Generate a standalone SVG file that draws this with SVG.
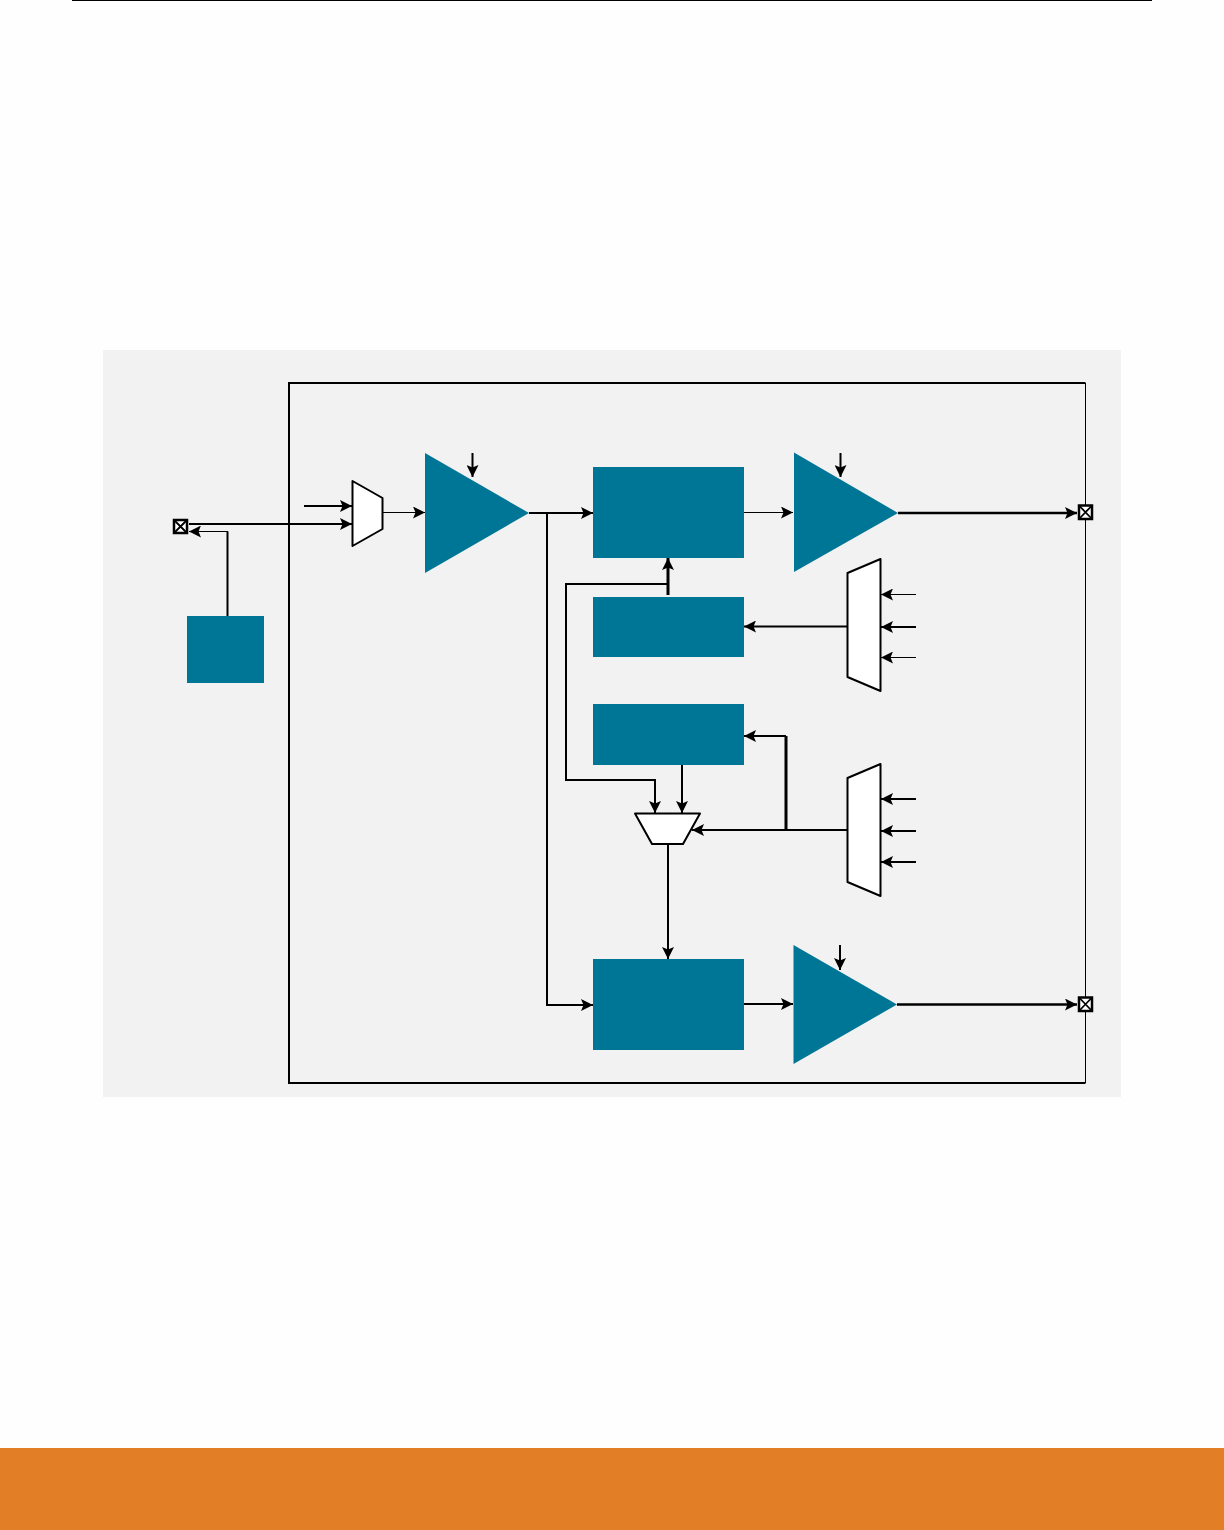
<svg xmlns="http://www.w3.org/2000/svg" width="1224" height="1530" viewBox="0 0 1224 1530">
  <style>
    .block { fill: #007696; }
    .mux { fill: #ffffff; stroke: #000000; stroke-width: 2; stroke-linejoin: round; }
    .port { fill: #ffffff; stroke: #000000; stroke-width: 2.5; }
    .portx { fill: none; stroke: #000000; stroke-width: 1.8; }
    .w { fill: none; stroke: #000000; stroke-width: 2; }
    .m { fill: none; stroke: #000000; stroke-width: 2.6; }
    .t { fill: none; stroke: #000000; stroke-width: 1.2; }
    .b { fill: none; stroke: #000000; stroke-width: 3; }
    .a { marker-end: url(#arrow); }
  </style>
  <defs>
    <marker id="arrow" markerUnits="userSpaceOnUse" markerWidth="12" markerHeight="12" refX="12" refY="6" orient="auto">
      <path d="M0,0 L12,6 L0,12 L2.5,6 Z" fill="#000000"/>
    </marker>
  </defs>
  <rect id="page" width="1224" height="1530" fill="#fefefe"/>
  <line id="top-rule" x1="72" y1="0.5" x2="1152" y2="0.5" stroke="#000000" stroke-width="1"/>
  <rect id="panel" x="103" y="350" width="1018" height="747" fill="#f2f2f2"/>
  <rect id="footer" x="0" y="1448" width="1224" height="82" fill="#e17e26"/>

  <g id="boundary">
    <path d="M1085.5,1083 H289 V383 H1085.5" fill="none" stroke="#000000" stroke-width="2"/>
    <line x1="1085.5" y1="383" x2="1085.5" y2="1083" stroke="#000000" stroke-width="1"/>
  </g>

  <g id="connectors">
    <path class="w a" d="M304,506 H352"/>
    <path class="w a" d="M189,524 H352"/>
    <path class="w" d="M227.500,616 V531.500"/>
    <path class="t a" d="M228,531.500 H189"/>
    <path class="t a" d="M382,512.500 H425"/>
    <path class="w a" d="M472.500,453 V477"/>
    <path class="w a" d="M529,513 H593"/>
    <path class="w a" d="M547,514 V1005 H593"/>
    <path class="t a" d="M744,512.500 H793"/>
    <path class="w a" d="M840.500,453 V477"/>
    <path class="m a" d="M898,513 H1077"/>
    <path class="b a" d="M668,595 V558"/>
    <path class="w a" d="M667,584 H566 V780 H655 V813"/>
    <path class="w a" d="M682,765 V813"/>
    <path class="w a" d="M847,626.500 H744"/>
    <path class="t a" d="M916,594.500 H881"/>
    <path class="w a" d="M916,627 H881"/>
    <path class="t a" d="M916,657.500 H881"/>
    <path class="w a" d="M847,830 H692"/>
    <path class="b" d="M786,830 V736"/>
    <path class="w a" d="M786,736 H744"/>
    <path class="w a" d="M916,799 H881"/>
    <path class="w a" d="M916,831 H881"/>
    <path class="w a" d="M916,862 H881"/>
    <path class="w a" d="M668,844 V959"/>
    <path class="w a" d="M744,1004 H793"/>
    <path class="w a" d="M840,945 V970"/>
    <path class="m a" d="M897,1004.500 H1077"/>
  </g>

  <g id="port-left"><rect class="port" x="174" y="520" width="13" height="13"/><path class="portx" d="M174,520 L187,533 M187,520 L174,533"/></g>
  <g id="port-right-top"><rect class="port" x="1079" y="505.500" width="13" height="13.500"/><path class="portx" d="M1079,505.500 L1092,519 M1092,505.500 L1079,519"/></g>
  <g id="port-right-bottom"><rect class="port" x="1079" y="997.500" width="13" height="13.500"/><path class="portx" d="M1079,997.500 L1092,1011 M1092,997.500 L1079,1011"/></g>

  <g id="block-left"><rect class="block" x="187" y="616" width="77" height="67"/></g>
  <g id="mux-input"><polygon class="mux" points="352.500,481 382.500,498 382.500,529 352.500,546"/></g>
  <g id="amp-input"><polygon class="block" points="425,453 529,513 425,573"/></g>
  <g id="block-top"><rect class="block" x="593" y="467" width="151" height="91"/></g>
  <g id="amp-top"><polygon class="block" points="794,452.500 898,513 794,572"/></g>
  <g id="block-second"><rect class="block" x="593" y="597" width="151" height="60"/></g>
  <g id="block-third"><rect class="block" x="593" y="704" width="151" height="61"/></g>
  <g id="block-bottom"><rect class="block" x="593" y="959" width="151" height="91"/></g>
  <g id="amp-bottom"><polygon class="block" points="793.500,945 897,1004.500 793.500,1064"/></g>
  <g id="mux-right-top"><polygon class="mux" points="847.500,573 880.500,559 880.500,691 847.500,677"/></g>
  <g id="mux-right-bottom"><polygon class="mux" points="847.500,778 880.500,764 880.500,896 847.500,882"/></g>
  <g id="mux-center"><polygon class="mux" points="635,813.500 700,813.500 683,844 652,844"/></g>
</svg>
